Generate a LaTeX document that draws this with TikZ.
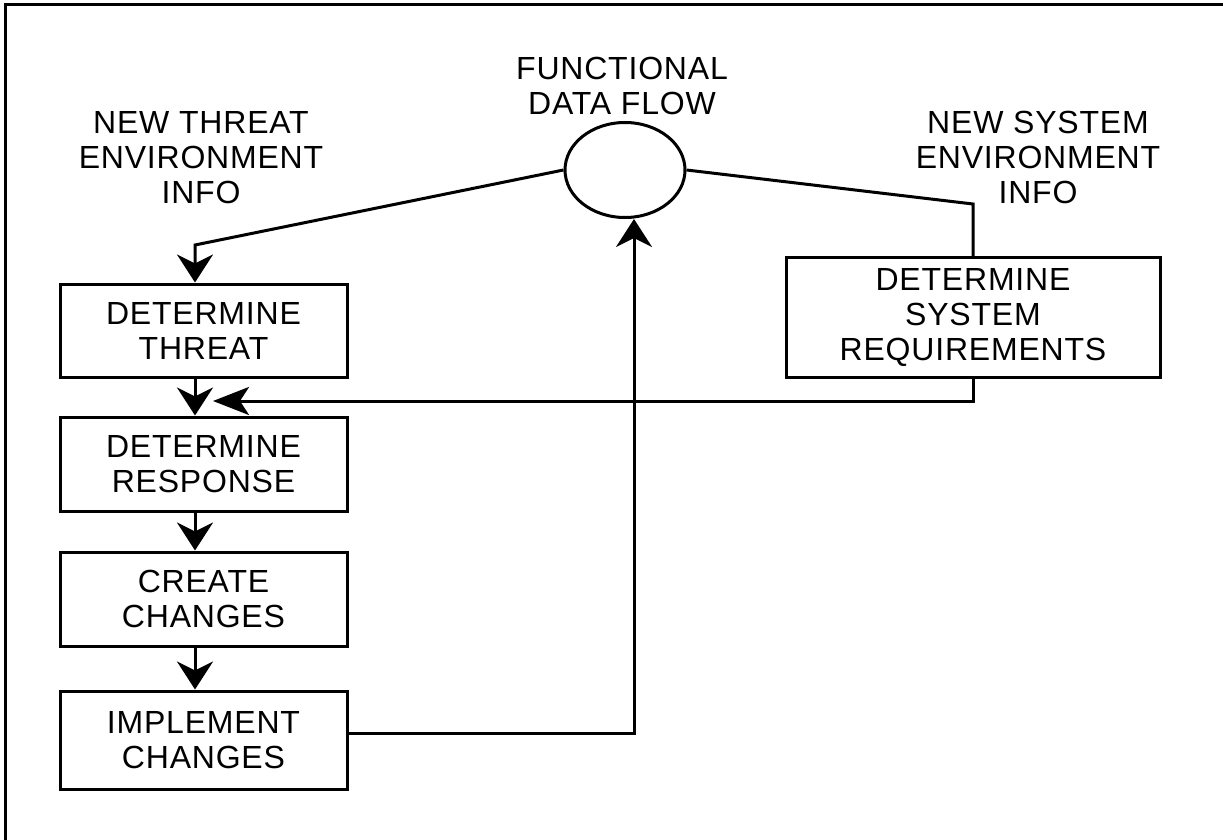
\documentclass[tikz,border=0pt]{standalone}
\usepackage{fontspec}
\setmainfont{Liberation Sans}[LetterSpace=2.5]
\usetikzlibrary{positioning, arrows.meta, shapes.geometric}

\tikzset{
  wire/.style={line width=3pt},
  feed/.style={wire, -{Stealth[length=28pt, width=36pt, inset=9pt]}},
  sidefeed/.style={wire, -{Stealth[length=36pt, width=28pt, inset=9pt]}},
  stepbox/.style={draw, line width=3pt, minimum width=287pt, minimum height=94pt,
                  align=center, inner sep=0pt},
  infolabel/.style={align=center, anchor=base, inner sep=0pt},
}

\begin{document}
\begin{tikzpicture}[x=1pt, y=-1pt, font=\fontsize{32}{35}\selectfont]
  \useasboundingbox (0,0) rectangle (1223,840);
  % open frame, top and left only
  \draw[wire] (5,840) -- (5,5) -- (1223,5);

  % labels (base = last line)
  \node[infolabel] (threatinfo) at (201,203) {NEW THREAT\\ENVIRONMENT\\INFO};
  \node[infolabel] (flowlabel) at (622,115) {FUNCTIONAL\\DATA FLOW};
  \node[infolabel] (sysinfo) at (1038,203) {NEW SYSTEM\\ENVIRONMENT\\INFO};

  % data flow bubble
  \node[ellipse, draw, line width=3pt, minimum width=120pt, minimum height=95pt,
        inner sep=0pt] (flow) at (625,170) {};

  % process chain
  \node[stepbox, minimum height=93pt] (threat) at (203.5,330.5) {DETERMINE\\THREAT};
  \node[stepbox] (response) at (203.5,464) {DETERMINE\\RESPONSE};
  \node[stepbox] (create) at (203.5,599) {CREATE\\CHANGES};
  \node[stepbox, minimum height=98pt] (implement) at (203.5,740) {IMPLEMENT\\CHANGES};
  \node[stepbox, minimum width=374pt, minimum height=120pt] (sysreq) at (973,317.5)
    {DETERMINE\\SYSTEM\\REQUIREMENTS};

  % bends and joins
  \coordinate (tbend) at (195,245);
  \coordinate (sbend) at (973,204);
  \coordinate (merge) at (213,401);
  \coordinate (rise) at (634,733);

  % connectors
  \draw[feed] (flow.west) -- (tbend) -- (tbend |- threat.north);
  \draw[wire] (flow.east) -- (sbend) -- (sysreq.north);
  \draw[feed] (threat.south -| tbend) -- (response.north -| tbend);
  \draw[sidefeed] (sysreq.south) |- (merge);
  \draw[feed] (response.south -| tbend) -- (create.north -| tbend);
  \draw[feed] (create.south -| tbend) -- (implement.north -| tbend);
  \draw[feed] (implement.east |- rise) -- (rise) -- (rise |- flow.south);
\end{tikzpicture}
\end{document}
